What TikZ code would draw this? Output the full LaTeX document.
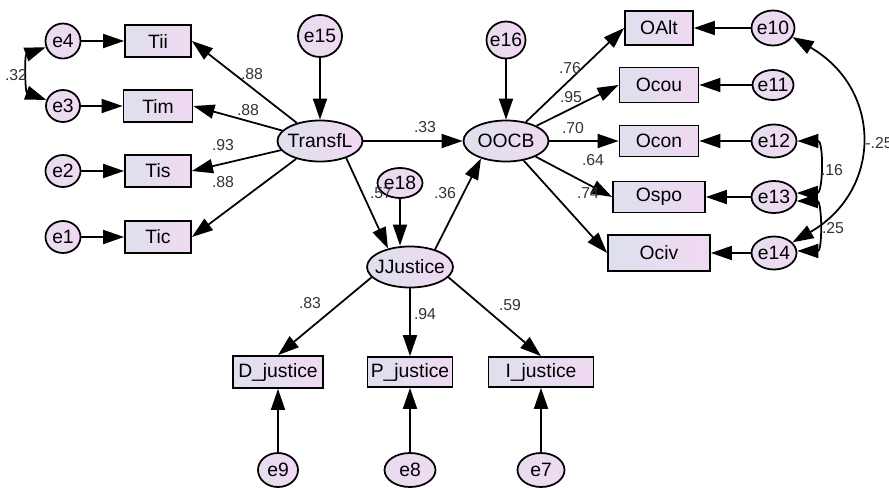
\documentclass[tikz,border=0pt]{standalone}
\usepackage{fontspec}
\setmainfont{Liberation Sans}
\usetikzlibrary{shapes.geometric, arrows.meta}
\definecolor{shadeL}{RGB}{222,224,237}
\definecolor{shadeR}{RGB}{240,217,242}
\tikzset{>={Triangle[length=12pt,width=8pt]}}
\tikzset{
  obs/.style={draw, line width=1pt, rectangle, left color=shadeL, right color=shadeR,
    inner sep=0pt, minimum width=1.32cm, minimum height=0.64cm, font=\fontsize{11}{13}\selectfont},
  lat/.style={draw, line width=1pt, ellipse, left color=shadeL, right color=shadeR,
    inner sep=0pt, inner xsep=-6pt, minimum width=1.7cm, minimum height=0.82cm, font=\fontsize{11}{13}\selectfont},
  err/.style={draw, line width=1pt, ellipse, left color=shadeL!50!shadeR, right color=shadeR,
    inner sep=0pt, inner xsep=-3pt, minimum width=0.86cm, minimum height=0.66cm, font=\fontsize{11}{13}\selectfont},
  reg/.style={line width=1pt, ->},
  cov/.style={line width=1pt, <->},
  coef/.style={font=\fontsize{9}{11}\selectfont, text=black!80, inner sep=0pt}
}

\begin{document}
\begin{tikzpicture}[x=0.2mm, y=-0.2mm]
\useasboundingbox (0,0) rectangle (889,487);

% latent variables
\node[lat] (TransfL) at (320,141) {TransfL};
\node[lat] (OOCB) at (506,141) {OOCB};
\node[lat, minimum width=1.72cm] (JJustice) at (410,267) {JJustice};

% disturbances
\node[err, minimum width=0.88cm, minimum height=0.84cm] (e15) at (320,36) {e15};
\node[err, minimum width=0.78cm, minimum height=0.74cm] (e16) at (506,40) {e16};
\node[err, minimum width=0.9cm, minimum height=0.6cm] (e18) at (400,183) {e18};

% indicators of TransfL
\node[obs] (Tii) at (158,41) {Tii};
\node[obs, minimum width=1.38cm] (Tim) at (158,106) {Tim};
\node[obs] (Tis) at (158,171) {Tis};
\node[obs] (Tic) at (158,237) {Tic};
\node[err, minimum width=0.7cm, minimum height=0.7cm] (e4) at (63,41) {e4};
\node[err, minimum width=0.68cm, minimum height=0.64cm] (e3) at (63,106) {e3};
\node[err, minimum width=0.7cm, minimum height=0.64cm] (e2) at (63,171) {e2};
\node[err, minimum width=0.7cm, minimum height=0.64cm] (e1) at (63,237) {e1};

% indicators of OOCB
\node[obs, minimum width=1.36cm, minimum height=0.68cm] (OAlt) at (659,28) {OAlt};
\node[obs, minimum width=1.58cm, minimum height=0.7cm] (Ocou) at (659,85) {Ocou};
\node[obs, minimum width=1.58cm, minimum height=0.62cm] (Ocon) at (659,141) {Ocon};
\node[obs, minimum width=1.84cm, minimum height=0.62cm] (Ospo) at (659,197) {Ospo};
\node[obs, minimum width=2.04cm, minimum height=0.72cm] (Ociv) at (659,253) {Ociv};
\node[err, minimum height=0.7cm] (e10) at (773,28) {e10};
\node[err, minimum width=0.82cm, minimum height=0.6cm] (e11) at (773,85) {e11};
\node[err, minimum width=0.9cm] (e12) at (774,141) {e12};
\node[err, minimum width=0.9cm, minimum height=0.64cm] (e13) at (774,197) {e13};
\node[err, minimum width=0.9cm] (e14) at (774,253) {e14};

% indicators of JJustice
\node[obs, minimum width=1.8cm] (Djustice) at (278,372) {D\_justice};
\node[obs, minimum width=1.7cm, minimum height=0.6cm] (Pjustice) at (410,372) {P\_justice};
\node[obs, minimum width=2.1cm, minimum height=0.6cm] (Ijustice) at (541,372) {I\_justice};
\node[err, minimum width=0.8cm, minimum height=0.68cm] (e9) at (278,470) {e9};
\node[err, minimum width=1.02cm, minimum height=0.68cm] (e8) at (410,470) {e8};
\node[err, minimum width=0.94cm, minimum height=0.68cm] (e7) at (541,470) {e7};

% structural paths
\draw[reg] (e15) -- (TransfL);
\draw[reg] (e16) -- (OOCB);
\draw[reg] (e18) -- (e18 |- JJustice.north);
\draw[reg] (TransfL) -- (OOCB);
\draw[reg] (TransfL.-33) -- (JJustice.140);
\draw[reg] (JJustice.35) -- (OOCB.-145);

% measurement paths
\foreach \t in {Tii,Tim,Tis,Tic}
\draw[reg] (TransfL) -- (\t.east);
\foreach \o in {OAlt,Ocou,Ocon,Ospo,Ociv}
\draw[reg] (OOCB) -- (\o.west);
\draw[reg] (JJustice.195) -- (Djustice.north);
\draw[reg] (JJustice) -- (Pjustice);
\draw[reg] (JJustice.-15) -- (Ijustice.north);

% error terms
\foreach \e/\t in {e4/Tii, e3/Tim, e2/Tis, e1/Tic, e10/OAlt, e11/Ocou, e12/Ocon, e13/Ospo, e14/Ociv, e9/Djustice, e8/Pjustice, e7/Ijustice}
\draw[reg] (\e) -- (\t);

% covariances
\draw[cov] (e4.200) to[out=200, in=160, looseness=1.1] (e3.160);
\draw[cov] (e12.east) to[out=0, in=0, looseness=1.3] (e13.10);
\draw[cov] (e13.-10) to[out=0, in=0, looseness=1.3] (e14.5);
\draw[cov] (e10.-25) to[out=-30, in=30, looseness=1.3] (e14.30);

% estimates
\foreach \x/\y/\val [count=\i] in {252/74/.88, 248/110/.88, 223/145/.93, 223/182/.88, 16/75/.32,
  425/127/.33, 381/193/.57, 445/193/.36, 570/68/.76, 571/97/.95, 573/128/.70, 593/160/.64,
  588/193/.74, 832/170/.16, 833/228/.25, 310/303/.83, 425/314/.94, 510/305/.59}
\node[coef] (est\i) at (\x,\y) {\val};
\node[coef, anchor=west] (estcov) at (865,143) {-.25};
\end{tikzpicture}
\end{document}
